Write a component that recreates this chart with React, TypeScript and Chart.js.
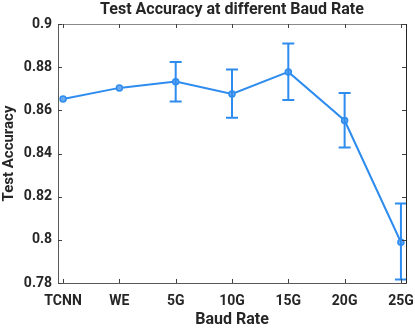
import React, { useEffect, useRef } from "react";
import { Chart, registerables } from "chart.js";

Chart.register(...registerables);

const categories = ["TCNN", "WE", "5G", "10G", "15G", "20G", "25G"];
const accuracy = [0.8653, 0.8704, 0.8733, 0.8676, 0.8778, 0.8553, 0.7989];
const errTop = [0.8653, 0.8704, 0.8824, 0.8789, 0.8910, 0.8680, 0.8168];
const errBottom = [0.8653, 0.8704, 0.8641, 0.8566, 0.8648, 0.8428, 0.7816];
const hasErr = [false, false, true, true, true, true, true];
const yTicks = [0.78, 0.8, 0.82, 0.84, 0.86, 0.88, 0.9];

const BLUE = "#2e8cef";
const TEXT = "#262626";
const FONT = "Roboto, 'Open Sans', sans-serif";

const errorBarPlugin = {
  id: "errorBars",
  afterDatasetsDraw(chart: any) {
    const { ctx, scales } = chart;
    const xs = scales.x;
    const ys = scales.y;
    ctx.save();
    ctx.strokeStyle = BLUE;
    ctx.lineWidth = 2;
    accuracy.forEach((_, i) => {
      if (!hasErr[i]) return;
      const x = xs.getPixelForValue(i + 1);
      const yt = ys.getPixelForValue(errTop[i]);
      const yb = ys.getPixelForValue(errBottom[i]);
      ctx.beginPath();
      ctx.moveTo(x, yt);
      ctx.lineTo(x, yb);
      ctx.moveTo(x - 6, yt);
      ctx.lineTo(x + 6, yt);
      ctx.moveTo(x - 6, yb);
      ctx.lineTo(x + 6, yb);
      ctx.stroke();
    });
    ctx.restore();
  },
};

const boxPlugin = {
  id: "boxTicks",
  afterDraw(chart: any) {
    const { ctx, chartArea, scales } = chart;
    const { left, right, top, bottom } = chartArea;
    ctx.save();
    ctx.lineWidth = 1;
    ctx.strokeStyle = "#8a8a8a";
    ctx.beginPath();
    ctx.moveTo(left, top + 0.5);
    ctx.lineTo(right, top + 0.5);
    ctx.stroke();
    ctx.strokeStyle = "#262626";
    ctx.beginPath();
    ctx.moveTo(right + 0.5, top);
    ctx.lineTo(right + 0.5, bottom);
    ctx.stroke();
    ctx.strokeStyle = "#404040";
    ctx.beginPath();
    scales.y.ticks.forEach((t: any) => {
      const y = Math.round(scales.y.getPixelForValue(t.value)) + 0.5;
      ctx.moveTo(left, y);
      ctx.lineTo(left + 4, y);
      ctx.moveTo(right, y);
      ctx.lineTo(right - 4, y);
    });
    scales.x.ticks.forEach((t: any) => {
      const x = Math.round(scales.x.getPixelForValue(t.value)) + 0.5;
      ctx.moveTo(x, bottom);
      ctx.lineTo(x, bottom - 4);
      ctx.moveTo(x, top);
      ctx.lineTo(x, top + 4);
    });
    ctx.stroke();
    ctx.restore();
  },
};

export default function App() {
  const ref = useRef<HTMLCanvasElement>(null);
  useEffect(() => {
    document.body.style.margin = "0";
    Chart.defaults.font.family = FONT;
    const chart = new Chart(ref.current as HTMLCanvasElement, {
      type: "line",
      data: {
        datasets: [
          {
            data: accuracy.map((v, i) => ({ x: i + 1, y: v })),
            borderColor: BLUE,
            borderWidth: 2,
            pointRadius: 3,
            pointBorderWidth: 1.5,
            pointBackgroundColor: "#6aaaf2",
            pointBorderColor: BLUE,
            tension: 0,
          },
        ],
      },
      options: {
        responsive: false,
        animation: false,
        layout: { padding: { left: 0, right: 9, top: 0, bottom: 0 } },
        plugins: {
          legend: { display: false },
          tooltip: { enabled: false },
          title: {
            display: true,
            fullSize: false,
            text: "Test Accuracy at different Baud Rate",
            color: TEXT,
            font: { size: 16, weight: "bold", family: FONT },
            padding: { top: 0, bottom: 4.8 },
          },
        },
        scales: {
          x: {
            type: "linear",
            min: 0.91,
            max: 7.09,
            grid: { display: false, drawTicks: false },
            border: { display: true, color: "#5a5a5a", width: 1 },
            afterBuildTicks: (s: any) => {
              s.ticks = categories.map((_, i) => ({ value: i + 1 }));
            },
            ticks: {
              color: TEXT,
              padding: 10,
              font: { size: 14, weight: "bold", family: FONT },
              maxRotation: 0,
              autoSkip: false,
              callback: (v: any) => categories[Math.round(v) - 1] ?? "",
            },
            title: {
              display: true,
              text: "Baud Rate",
              color: TEXT,
              font: { size: 16, weight: "bold", family: FONT },
              padding: { top: 0, bottom: 0 },
            },
            afterFit: (s: any) => {
              s.height = 47;
              s.paddingLeft = 0;
              s.paddingRight = 0;
            },
          },
          y: {
            type: "linear",
            min: 0.78,
            max: 0.9,
            grid: { display: false, drawTicks: false },
            border: { display: true, color: "#5a5a5a", width: 1 },
            afterBuildTicks: (s: any) => {
              s.ticks = yTicks.map((v) => ({ value: v }));
            },
            ticks: {
              color: TEXT,
              padding: 6,
              font: { size: 14, weight: "bold", family: FONT },
              callback: (v: any) => String(parseFloat(Number(v).toFixed(2))),
            },
            title: {
              display: true,
              text: "Test Accuracy",
              color: TEXT,
              font: { size: 15, weight: "bold", family: FONT },
              padding: { top: 0, bottom: 0 },
            },
            afterFit: (s: any) => {
              s.width = 58;
              s.paddingTop = 0;
              s.paddingBottom = 0;
            },
          },
        },
      },
      plugins: [errorBarPlugin, boxPlugin],
    } as any);
    return () => chart.destroy();
  }, []);
  return <canvas ref={ref} width={415} height={330} style={{ display: "block" }} />;
}
